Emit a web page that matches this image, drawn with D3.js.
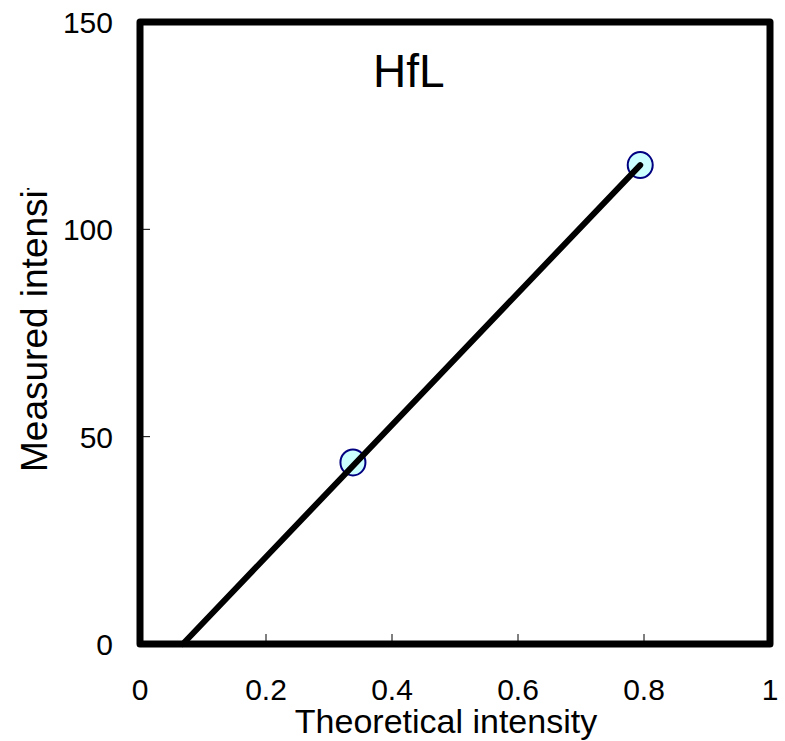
<!DOCTYPE html>
<html>
<head>
<meta charset="utf-8">
<script src="https://cdn.jsdelivr.net/npm/d3@7"></script>
<style>
  body { margin: 0; background: #fff; }
  svg text { font-family: "Liberation Sans", Arial, sans-serif; fill: #000; }
</style>
</head>
<body>
<div id="chart"></div>
<script>
// measured vs theoretical intensity, HfL line
var theoretical = [0.338, 0.794];
var measured = [43.8, 115.5];
// fitted line end points
var fitX = [0.068, 0.794];
var fitY = [0, 115.5];
var xTicks = [0, 0.2, 0.4, 0.6, 0.8, 1];
var yTicks = [0, 50, 100, 150];

var width = 785, height = 741;
var plotLeft = 140, plotRight = 770, plotTop = 22, plotBottom = 644;

var svg = d3.select("#chart").append("svg")
    .attr("width", width).attr("height", height);

var x = d3.scaleLinear().domain([0, 1]).range([plotLeft, plotRight]);
var y = d3.scaleLinear().domain([0, 150]).range([plotBottom, plotTop]);

// ticks (inside)
svg.selectAll(".xt").data(xTicks.slice(1, -1)).enter().append("line")
    .attr("x1", d => x(d)).attr("x2", d => x(d))
    .attr("y1", plotBottom).attr("y2", plotBottom - 10)
    .attr("stroke", "#000").attr("stroke-width", 1);
svg.selectAll(".yt").data(yTicks.slice(1, -1)).enter().append("line")
    .attr("y1", d => y(d)).attr("y2", d => y(d))
    .attr("x1", plotLeft).attr("x2", plotLeft + 10)
    .attr("stroke", "#000").attr("stroke-width", 1);

// tick labels
svg.selectAll(".xl").data(xTicks).enter().append("text")
    .attr("x", d => x(d)).attr("y", 700)
    .attr("text-anchor", "middle").attr("font-size", 30)
    .text(d => d3.format("")(d));
svg.selectAll(".yl").data(yTicks).enter().append("text")
    .attr("x", 113).attr("y", d => y(d) + 11)
    .attr("text-anchor", "end").attr("font-size", 30)
    .text(d => d);

// points
svg.selectAll("ellipse").data(theoretical).enter().append("ellipse")
    .attr("cx", d => x(d)).attr("cy", (d, i) => y(measured[i]))
    .attr("rx", 12.5).attr("ry", 13)
    .attr("fill", "#ccffff").attr("stroke", "#000080").attr("stroke-width", 2);

// fit line
var line = d3.line().x(d => x(d[0])).y(d => y(d[1]));
svg.append("path")
    .datum(fitX.map((v, i) => [v, fitY[i]]))
    .attr("d", line)
    .attr("fill", "none").attr("stroke", "#000")
    .attr("stroke-width", 6).attr("stroke-linecap", "round");

// frame
svg.append("rect")
    .attr("x", plotLeft).attr("y", plotTop)
    .attr("width", plotRight - plotLeft).attr("height", plotBottom - plotTop)
    .attr("fill", "none").attr("stroke", "#000")
    .attr("stroke-width", 7).attr("stroke-linejoin", "round");

// titles
svg.append("text").attr("x", 373).attr("y", 87)
    .attr("font-size", 46).text("HfL");

svg.append("text").attr("x", 446).attr("y", 733)
    .attr("text-anchor", "middle").attr("font-size", 34)
    .text("Theoretical intensity");

// y title is cut off at the top in the original
svg.append("clipPath").attr("id", "yclip")
    .append("rect").attr("x", 0).attr("y", 188).attr("width", 120).attr("height", 400);
svg.append("g")
    .attr("clip-path", "url(#yclip)")
    .append("text")
    .attr("transform", "translate(47,472) rotate(-90)")
    .attr("font-size", 37)
    .text("Measured intensity");
</script>
</body>
</html>
